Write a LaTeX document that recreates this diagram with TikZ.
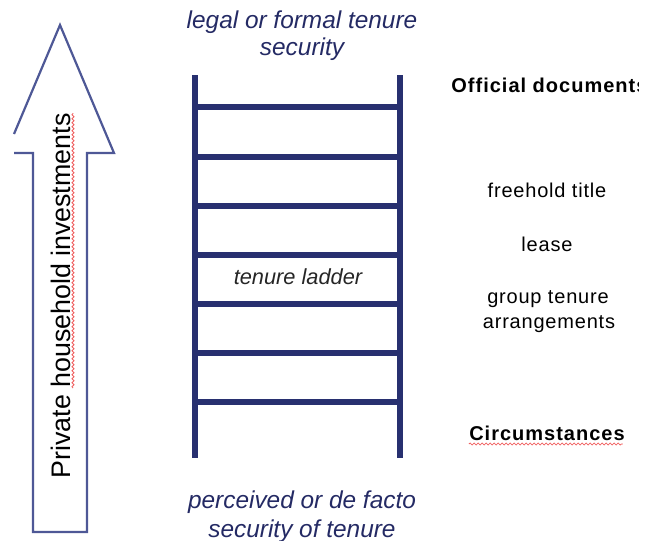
\documentclass[tikz,border=0pt]{standalone}
\usepackage{fontspec}
\setmainfont{Liberation Sans}
\usepackage{xcolor}
\usetikzlibrary{positioning, calc, decorations.pathmorphing}

\definecolor{laddernavy}{RGB}{40,48,112}
\definecolor{labelnavy}{RGB}{36,42,100}
\definecolor{arrowslate}{RGB}{78,88,150}
\definecolor{spellred}{RGB}{240,95,95}

\tikzset{
  rail/.style={laddernavy, line width=2.6pt},
  rung/.style={laddernavy, line width=2.6pt},
  endlabel/.style={labelnavy, font=\fontsize{12.2}{14}\selectfont\itshape, anchor=base, inner sep=0pt},
  sidelabel/.style={font=\fontsize{10}{12}\selectfont\addfontfeature{LetterSpace=4}, anchor=base, inner sep=0pt},
  headlabel/.style={font=\fontsize{10}{12}\selectfont\bfseries\addfontfeature{LetterSpace=5}, anchor=base, inner sep=0pt},
  spell/.style={spellred, line width=0.4pt, decorate, decoration={snake, amplitude=0.5pt, segment length=2pt}}
}

\begin{document}
\begin{tikzpicture}[x=0.5pt, y=-0.5pt]
    \useasboundingbox (0,0) rectangle (649,541);

    % Investment arrow
    \draw [arrowslate, line width=1.1pt, fill=white, line join=miter]
        (14,134) -- (60,25) -- (114,153) -- (87,153) -- (87,532) -- (33,532) -- (33,153) -- (14,153);
    \node (invest) [rotate=90, inner sep=0pt, font=\fontsize{13.4}{15}\selectfont] at (61,296) {Private household investments};
    \draw [spell] (73,388) -- (73,113);

    % Ladder
    \coordinate (topL) at (195,75);
    \coordinate (topR) at (400,75);
    \coordinate (botL) at (195,458);
    \coordinate (botR) at (400,458);
    \draw [rail] (topL) -- (botL);
    \draw [rail] (topR) -- (botR);
    \foreach \y in {107,157,206,255,304,353,402}
        \draw [rung] (topL |- 0,\y) -- (topR |- 0,\y);
    \node (ladder) [anchor=base, inner sep=0pt, font=\fontsize{10.9}{12}\selectfont\itshape, black!85] at (298,284) {tenure ladder};

    % Ends of the ladder
    \node (legal) [endlabel] at (302,28) {legal or formal tenure};
    \node (legal2) [endlabel] at (302,55) {security};
    \node (perceived) [endlabel] at (302,508) {perceived or de facto};
    \node (perceived2) [endlabel] at (302,537) {security of tenure};

    % Right hand side
    \begin{scope}
        \clip (0,0) rectangle (638,541);
        \node (official) [headlabel, anchor=base west] at (451,92) {Official documents};
    \end{scope}
    \node (freehold) [sidelabel] at (547,197) {freehold title};
    \node (lease) [sidelabel] at (547,251) {lease};
    \node (group) [sidelabel] at (548,303) {group tenure};
    \node (group2) [sidelabel] at (549,328) {arrangements};
    \node (circ) [headlabel] at (547,440) {Circumstances};
    \draw [spell] (circ.base west) ++(0,4) -- ++(154,0);

\end{tikzpicture}
\end{document}
